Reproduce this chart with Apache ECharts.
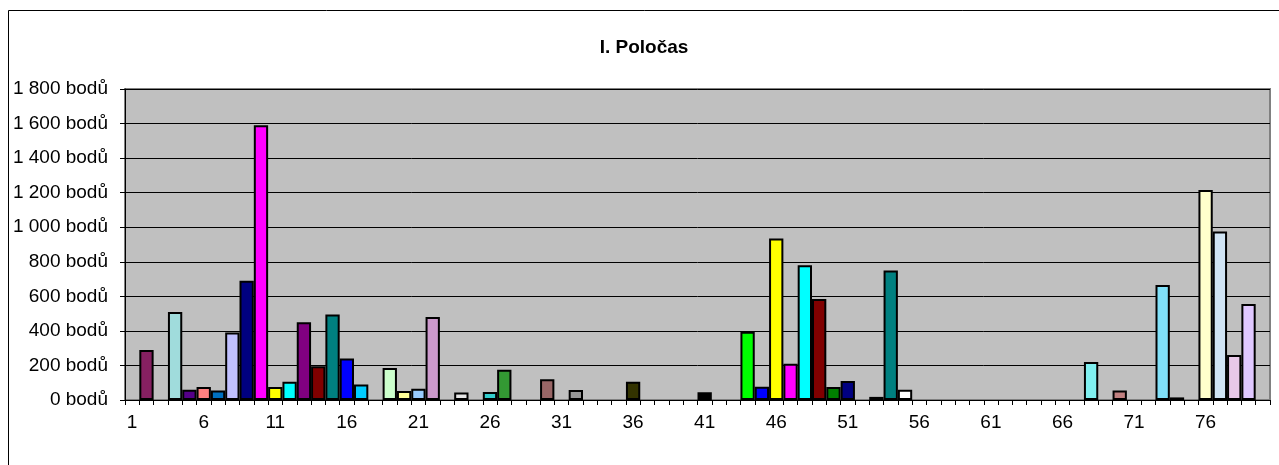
<!DOCTYPE html>
<html>
<head>
<meta charset="utf-8">
<script src="https://cdn.jsdelivr.net/npm/echarts@6/dist/echarts.min.js"></script>
<style>
html,body{margin:0;padding:0;background:#fff;}
#c{width:1279px;height:465px;}
</style>
</head>
<body>
<div id="c"></div>
<script>
var titleText = 'I. Poločas';
var categories = [];
for (var i = 1; i <= 80; i++) categories.push(String(i));
var values = [
  null, 290, null, 510, 60, 75, 55, 390, 690, 1590,
  75, 105, 450, 195, 495, 240, 90, null, 185, 52,
  65, 480, null, 43, null, 46, 175, null, null, 120,
  null, 58, null, null, null, 105, null, null, null, null,
  45, null, null, 395, 77, 935, 210, 780, 585, 75,
  110, null, 18, 750, 60, null, null, null, null, null,
  null, null, null, null, null, null, null, 220, null, 55,
  null, null, 665, 15, null, 1215, 975, 260, 555, null
];
var barColors = [
  '#fff', '#862061', '#fff', '#a0dcdc', '#550088', '#ff8080', '#0070c0', '#c0c0ff', '#000080', '#ff00ff',
  '#ffff00', '#00ffff', '#800080', '#800000', '#008080', '#0000ff', '#00ccff', '#fff', '#ccffcc', '#ffff99',
  '#99ccff', '#cc99cc', '#fff', '#e6e6e6', '#fff', '#33cccc', '#339933', '#fff', '#fff', '#996666',
  '#fff', '#969696', '#fff', '#fff', '#fff', '#333300', '#fff', '#fff', '#fff', '#fff',
  '#000000', '#fff', '#fff', '#00ff00', '#0000ff', '#ffff00', '#ff00ff', '#00ffff', '#800000', '#008000',
  '#000080', '#fff', '#330033', '#008080', '#ffffff', '#fff', '#fff', '#fff', '#fff', '#fff',
  '#fff', '#fff', '#fff', '#fff', '#fff', '#fff', '#fff', '#80f0f0', '#fff', '#c08080',
  '#fff', '#fff', '#80e0f8', '#000000', '#fff', '#ffffcc', '#d0e4f4', '#e8c8e8', '#e0c8ff', '#fff'
];
var yMin = 0, yMax = 1800, yStep = 200;

function fmtY(v) {
  var s = String(v);
  if (v >= 1000) s = s.slice(0, s.length - 3) + ' ' + s.slice(s.length - 3);
  return s + ' bodů';
}

var chart = echarts.init(document.getElementById('c'), null, {renderer: 'canvas'});
chart.setOption({
  animation: false,
  backgroundColor: '#ffffff',
  title: {
    text: titleText,
    left: 639,
    top: 33,
    textAlign: 'center',
    textStyle: {fontFamily: 'Liberation Sans', fontWeight: 'bold', fontSize: 19, color: '#000'}
  },
  graphic: [{
    type: 'rect',
    shape: {x: 8.5, y: 10.5, width: 1400, height: 600},
    style: {fill: 'none', stroke: '#000', lineWidth: 1},
    silent: true,
    z: 100
  }],
  grid: {
    left: 125, right: 9, top: 89, bottom: 65,
    show: true,
    backgroundColor: '#c0c0c0',
    borderColor: '#808080',
    borderWidth: 2
  },
  xAxis: {
    type: 'category',
    data: categories,
    boundaryGap: true,
    axisLine: {show: true, lineStyle: {color: '#000', width: 1}},
    axisTick: {show: true, interval: 0, length: 5, lineStyle: {color: '#000'}},
    axisLabel: {
      interval: 4, margin: 13, color: '#000',
      fontFamily: 'Liberation Sans', fontSize: 19
    },
    splitLine: {show: false}
  },
  yAxis: {
    type: 'value',
    min: yMin, max: yMax, interval: yStep,
    axisLine: {show: true, lineStyle: {color: '#000', width: 1}},
    axisTick: {show: true, length: 5, lineStyle: {color: '#000'}},
    axisLabel: {
      formatter: fmtY, margin: 17, color: '#000',
      fontFamily: 'Liberation Sans', fontSize: 19
    },
    splitLine: {show: true, lineStyle: {color: '#000', width: 1}}
  },
  series: [{
    type: 'bar',
    barCategoryGap: '0%',
    data: values.map(function (v, i) {
      return {value: v, itemStyle: {color: barColors[i]}};
    }),
    itemStyle: {borderColor: '#000', borderWidth: 2}
  }]
});
</script>
</body>
</html>
